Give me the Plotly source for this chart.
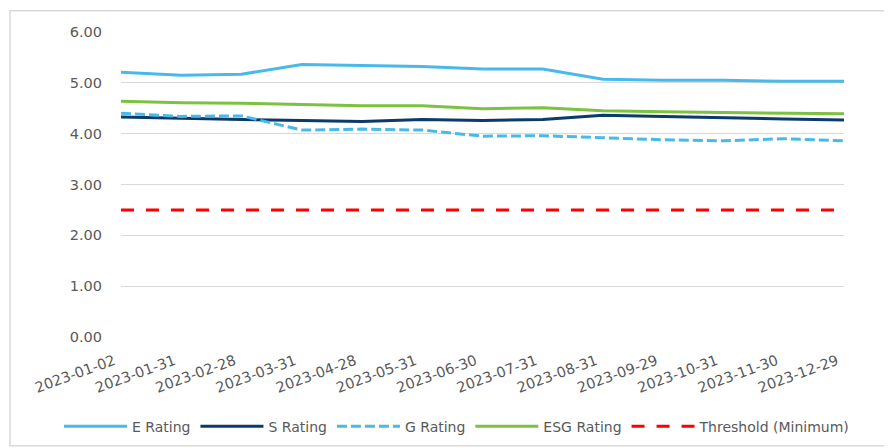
import plotly.graph_objects as go

dates = ["2023-01-02", "2023-01-31", "2023-02-28", "2023-03-31", "2023-04-28", "2023-05-31",
         "2023-06-30", "2023-07-31", "2023-08-31", "2023-09-29", "2023-10-31", "2023-11-30", "2023-12-29"]
e_rating = [5.21, 5.15, 5.17, 5.36, 5.34, 5.32, 5.27, 5.27, 5.07, 5.05, 5.05, 5.03, 5.03]
s_rating = [4.33, 4.30, 4.28, 4.26, 4.24, 4.28, 4.26, 4.28, 4.36, 4.34, 4.31, 4.29, 4.27]
g_rating = [4.40, 4.34, 4.35, 4.07, 4.09, 4.07, 3.95, 3.96, 3.92, 3.88, 3.86, 3.90, 3.86]
esg_rating = [4.64, 4.61, 4.60, 4.57, 4.55, 4.55, 4.49, 4.51, 4.45, 4.43, 4.42, 4.41, 4.39]
threshold = [2.50] * len(dates)
y_ticks = [0, 1, 2, 3, 4, 5, 6]

FONT = "DejaVu Sans"
GRAY = "#595959"
FS = 14.5

# the page body has an 8px margin, so the figure is 8px smaller and offset
PLOT_L, PLOT_R, PLOT_T, PLOT_B = 121, 844, 32.3, 337.3  # page pixels of plot area
PW, PH = PLOT_R - PLOT_L, PLOT_B - PLOT_T

fig = go.Figure()
fig.add_trace(go.Scatter(x=dates, y=e_rating, name="E Rating", mode="lines",
                         line=dict(color="#49B9E9", width=3)))
fig.add_trace(go.Scatter(x=dates, y=s_rating, name="S Rating", mode="lines",
                         line=dict(color="#0B3A6B", width=3)))
fig.add_trace(go.Scatter(x=dates, y=g_rating, name="G Rating", mode="lines",
                         line=dict(color="#49B9E9", width=3, dash="10px,4px")))
fig.add_trace(go.Scatter(x=dates, y=esg_rating, name="ESG Rating", mode="lines",
                         line=dict(color="#7CC142", width=3)))
fig.add_trace(go.Scatter(x=dates, y=threshold, name="Threshold (Minimum)", mode="lines",
                         line=dict(color="#FF0000", width=3, dash="13px,12px")))

fig.update_layout(
    width=884, height=440,
    margin=dict(l=113, r=48, t=24, b=111, autoexpand=False),
    paper_bgcolor="white", plot_bgcolor="white",
    font=dict(family=FONT, size=FS, color=GRAY),
    showlegend=True,
    legend=dict(orientation="h", x=(59 - PLOT_L) / PW, xanchor="left",
                y=(PLOT_B - 427) / PH, yanchor="middle",
                font=dict(family=FONT, size=14, color=GRAY), itemwidth=63,
                traceorder="normal", bgcolor="rgba(0,0,0,0)"),
    xaxis=dict(type="category", range=[0, len(dates) - 1], tickmode="array",
               tickvals=dates, ticktext=dates, tickangle=-20, showgrid=False,
               zeroline=False, showline=False, ticks="", ticklabelstandoff=12,
               ticklabelshift=-7,
               tickfont=dict(family=FONT, size=FS, color=GRAY)),
    yaxis=dict(range=[0, 6], tickmode="array", tickvals=y_ticks,
               ticktext=[f"{v:.2f}" for v in y_ticks], showgrid=True,
               gridcolor="#D9D9D9", gridwidth=1.3, zeroline=False, showline=False,
               ticks="", ticklabelstandoff=18,
               tickfont=dict(family=FONT, size=FS, color=GRAY)),
    shapes=[dict(type="rect", xref="paper", yref="paper",
                 x0=(10 - PLOT_L) / PW, x1=(887 - PLOT_L) / PW,
                 y0=(PLOT_B - 446) / PH, y1=(PLOT_B - 11) / PH,
                 line=dict(color="#D9D9D9", width=1.5), layer="below")],
)

fig.write_html("out.html")
